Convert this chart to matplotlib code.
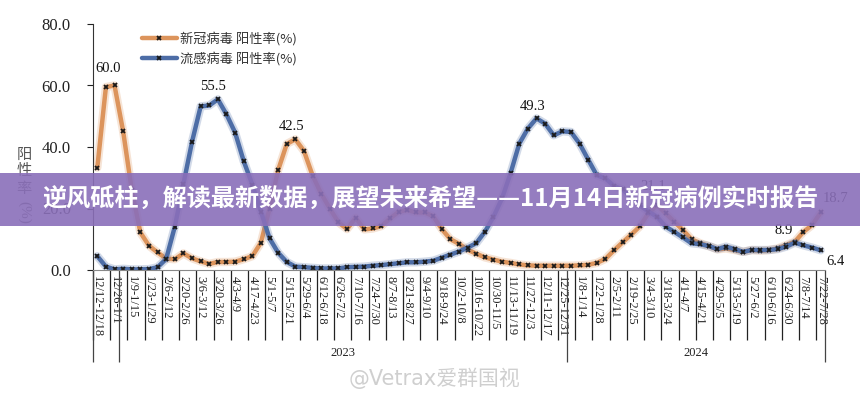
import numpy as np
import matplotlib
matplotlib.use("Agg")
import matplotlib.pyplot as plt
from matplotlib.patches import Rectangle

plt.rcParams['font.family'] = ['Liberation Serif', 'Noto Sans CJK SC']

# 每周阳性率(%)，2022/12/12 起
covid = [33.3, 59.5, 60.0, 45.1, 26.0, 12.2, 7.9, 5.7, 3.7, 3.5,
         5.4, 3.8, 2.8, 2.0, 2.6, 2.6, 2.7, 3.5, 4.5, 8.9,
         20.0, 32.5, 41.0, 42.5, 38.7, 30.7, 24.8, 20.0, 15.5, 13.3,
         17.0, 13.2, 13.5, 14.3, 16.8, 18.9, 19.5, 18.7, 18.7, 17.5,
         13.3, 10.0, 8.5, 6.6, 5.3, 4.1, 3.4, 2.7, 2.3, 1.8,
         1.5, 1.4, 1.4, 1.4, 1.4, 1.4, 1.5, 1.7, 2.3, 3.6,
         6.4, 9.0, 11.5, 14.2, 18.5, 21.1, 18.4, 15.7, 13.0, 10.0,
         8.7, 7.8, 6.7, 7.0, 6.5, 5.9, 6.5, 6.3, 6.5, 7.0,
         8.1, 9.2, 12.4, 14.6, 18.7]
flu = [4.5, 1.1, 0.2, 0.4, 0.2, 0.2, 0.3, 0.9, 3.6, 14.1,
       28.0, 41.7, 53.2, 53.5, 55.5, 50.6, 44.7, 35.4, 27.8, 19.0,
       10.3, 5.6, 2.6, 1.1, 0.9, 0.7, 0.5, 0.5, 0.5, 0.9,
       1.0, 1.1, 1.4, 1.6, 1.9, 2.2, 2.5, 2.5, 2.7, 3.0,
       4.0, 5.0, 6.0, 7.3, 8.7, 12.4, 17.3, 23.3, 31.6, 41.1,
       46.0, 49.3, 47.6, 43.8, 45.1, 44.9, 41.1, 35.9, 30.8, 29.8,
       27.3, 26.2, 23.5, 21.0, 19.0, 17.3, 14.1, 12.4, 10.6, 8.7,
       8.4, 7.8, 6.8, 7.6, 6.8, 5.9, 6.5, 6.5, 6.5, 6.8,
       7.6, 8.9, 8.0, 7.3, 6.4]

week_labels = ["12/12-12/18", "12/26-1/1", "1/9-1/15", "1/23-1/29", "2/6-2/12",
               "2/20-2/26", "3/6-3/12", "3/20-3/26", "4/3-4/9", "4/17-4/23",
               "5/1-5/7", "5/15-5/21", "5/29-6/4", "6/12-6/18", "6/26-7/2",
               "7/10-7/16", "7/24-7/30", "8/7-8/13", "8/21-8/27", "9/4-9/10",
               "9/18-9/24", "10/2-10/8", "10/16-10/22", "10/30-11/5", "11/13-11/19",
               "11/27-12/3", "12/11-12/17", "12/25-12/31", "1/8-1/14", "1/22-1/28",
               "2/5-2/11", "2/19-2/25", "3/4-3/10", "3/18-3/24", "4/1-4/7",
               "4/15-4/21", "4/29-5/5", "5/13-5/19", "5/27-6/2", "6/10-6/16",
               "6/24-6/30", "7/8-7/14", "7/22-7/28"]
years = ["", "2023", "2024"]
year_start = [0, 3, 55]

# 标注的数值点: (序列, 周序号, 像素偏移)
peak_labels = [("covid", 2, (-6, 17)), ("flu", 14, (-5, 13)), ("covid", 23, (-4, 13)),
               ("flu", 51, (-4, 12)), ("covid", 65, (-4, 19)), ("covid", 84, (15, 14)),
               ("flu", 81, (-11, 12)), ("flu", 84, (15, -11))]

c_orange = '#dc945c'
c_blue = '#4d6da6'

fig = plt.figure(figsize=(8.6, 4), dpi=100)
ax = fig.add_axes([93 / 860, 1 - 270 / 400, (825 - 93) / 860, (270 - 24) / 400])

n = len(covid)
x = np.arange(n)
series = {"covid": covid, "flu": flu}

for vals, col, lab in [(covid, c_orange, '新冠病毒 阳性率(%)'), (flu, c_blue, '流感病毒 阳性率(%)')]:
    ax.plot(x, vals, color=col, lw=6, alpha=0.25, solid_capstyle='round', solid_joinstyle='round')
    ax.plot(x, vals, color=col, lw=3.2, solid_capstyle='round', solid_joinstyle='round',
            marker='x', markersize=3.5, markeredgewidth=1.3, markeredgecolor='#1a1a1a', label=lab)

for name, i, off in peak_labels:
    v = series[name][i]
    ax.annotate(f"{v:.1f}", (i, v), xytext=off, textcoords='offset pixels',
                ha='center', va='center', fontsize=10.5, color='#111111')

ax.set_xlim(-0.5, n - 0.5)
ax.set_ylim(0, 80)
ax.set_yticks([0, 20, 40, 60, 80])
ax.set_yticklabels(["0.0", "20.0", "40.0", "60.0", "80.0"])
ax.tick_params(axis='y', direction='out', length=4, width=0.8, pad=12, labelsize=12, colors='#222222')
ax.set_xticks(x[::2])
ax.set_xticklabels(week_labels, rotation=-90, fontsize=9, color='#222222')
ax.tick_params(axis='x', length=0, pad=4)

for s in ['top', 'right']:
    ax.spines[s].set_visible(False)
ax.spines['left'].set_color('#333333')
ax.spines['bottom'].set_color('#888888')

# 分类轴上的分隔线
tr = ax.get_xaxis_transform()
short = np.arange(-0.5, n - 1, 2)
ax.vlines(short, -0.285, 0, transform=tr, colors='#222222', lw=0.9, clip_on=False)
seps = [s - 0.5 for s in year_start] + [n - 0.5]
ax.vlines(seps, -0.375, 0, transform=tr, colors='#444444', lw=0.9, clip_on=False)
for k, yr in enumerate(years):
    if yr:
        mid = (seps[k] + seps[k + 1]) / 2
        ax.text(mid, -0.337, yr, transform=tr, ha='center', va='center', fontsize=9, color='#222222')

# y 轴标题
fig.text(24 / 860, 1 - 171 / 400, '阳\n性\n率', ha='center', va='center', fontsize=11,
         color='#555555', family=['Noto Sans CJK SC'], linespacing=1.0)
fig.text(24 / 860, 1 - 212 / 400, '(%)', ha='center', va='center', fontsize=11,
         color='#555555', rotation=-90)

ax.legend(loc='upper left', bbox_to_anchor=(135 / 860, 1 - 25 / 400), bbox_transform=fig.transFigure,
          frameon=False, borderpad=0, handlelength=2.7, handletextpad=0.2, labelspacing=0.45,
          prop={'family': ['Noto Sans CJK SC'], 'size': 9.5}, labelcolor='#333333')

# 标题横幅
fig.add_artist(Rectangle((0, 1 - 226 / 400), 1, 53 / 400, transform=fig.transFigure,
                         facecolor='#8a6fb9', alpha=0.9, edgecolor='none', zorder=5))
fig.text(0.5, 1 - 200 / 400, '逆风砥柱，解读最新数据，展望未来希望——11月14日新冠病例实时报告',
         ha='center', va='center', fontsize=17.4, fontweight='bold', color='white',
         family=['Noto Sans CJK SC'], zorder=6)

# 水印
fig.text(435 / 860, 1 - 378 / 400, '@Vetrax爱群国视', ha='center', va='center', fontsize=15,
         color='#bbbbbb', alpha=0.7, family=['DejaVu Sans', 'Noto Sans CJK SC'], zorder=6)

fig.savefig('out.png', dpi=100)
